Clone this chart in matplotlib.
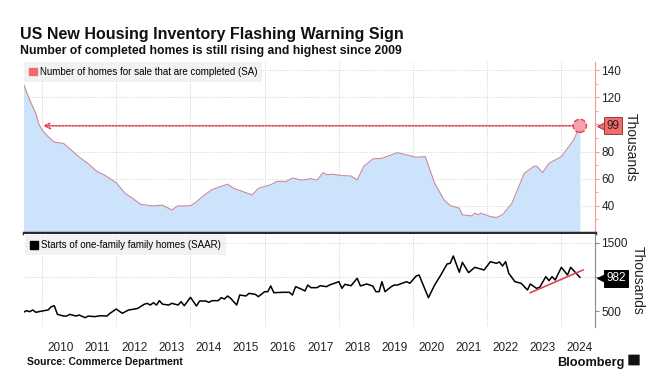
import matplotlib
matplotlib.use("Agg")
import matplotlib.pyplot as plt
import matplotlib.dates as mdates
import matplotlib.transforms as mtransforms
from matplotlib.patches import Patch, FancyBboxPatch
import pandas as pd

plt.rcParams["font.family"] = ["Liberation Sans", "DejaVu Sans"]

# completed new homes for sale, thousands (SA)
completed_dates = ["2009-07", "2009-09", "2009-11", "2009-12", "2010-01", "2010-03", "2010-05",
                   "2010-08", "2010-10", "2011-01", "2011-04", "2011-07", "2011-09", "2012-01",
                   "2012-04", "2012-06", "2012-09", "2013-01", "2013-04", "2013-07", "2013-09",
                   "2014-01", "2014-03", "2014-05", "2014-08", "2015-01", "2015-03", "2015-06",
                   "2015-09", "2015-11", "2016-03", "2016-05", "2016-08", "2016-10", "2017-01",
                   "2017-04", "2017-06", "2017-08", "2017-09", "2017-11", "2018-02", "2018-05",
                   "2018-07", "2018-09", "2018-12", "2019-03", "2019-06", "2019-08", "2019-11",
                   "2020-02", "2020-05", "2020-08", "2020-11", "2021-01", "2021-04", "2021-05",
                   "2021-08", "2021-09", "2021-10", "2021-11", "2022-02", "2022-04", "2022-06",
                   "2022-09", "2022-11", "2023-01", "2023-04", "2023-05", "2023-07", "2023-09",
                   "2023-11", "2024-01", "2024-03", "2024-05", "2024-07"]
completed = [130, 118, 108, 100, 96, 91, 87,
             86, 82, 76, 71, 65, 63, 57,
             49, 46, 41, 40, 40.5, 37, 40,
             40, 43, 47, 52, 56, 53, 50.5,
             48, 53, 55.5, 58, 58, 60.5, 59,
             60, 59, 64.5, 63, 63.3, 62.3, 62,
             59, 69, 74.6, 75, 77.5, 79.2, 77.5,
             75.8, 76.3, 56.7, 44.4, 40.2, 38.3, 33.4,
             32.6, 34.6, 33.4, 34.6, 32.1, 31.4, 33.4,
             42, 53, 64, 68.9, 69.4, 64.5, 71.4,
             73.8, 76.3, 82.4, 88.5, 99]

# one-family housing starts, thousands (SAAR)
starts_dates = ["2009-07", "2009-08", "2009-09", "2009-10", "2009-11", "2010-01", "2010-03",
                "2010-04", "2010-05", "2010-06", "2010-08", "2010-09", "2010-10", "2010-12",
                "2011-01", "2011-03", "2011-04", "2011-06", "2011-08", "2011-10", "2011-11",
                "2012-01", "2012-03", "2012-05", "2012-07", "2012-08", "2012-10", "2012-11",
                "2012-12", "2013-01", "2013-02", "2013-03", "2013-04", "2013-06", "2013-07",
                "2013-09", "2013-10", "2013-11", "2014-01", "2014-03", "2014-04", "2014-06",
                "2014-07", "2014-08", "2014-10", "2014-11", "2014-12", "2015-01", "2015-02",
                "2015-04", "2015-05", "2015-07", "2015-08", "2015-10", "2015-11", "2016-01",
                "2016-02", "2016-03", "2016-04", "2016-07", "2016-09", "2016-10", "2016-11",
                "2017-01", "2017-02", "2017-03", "2017-04", "2017-06", "2017-07", "2017-09",
                "2017-10", "2018-01", "2018-02", "2018-03", "2018-05", "2018-07", "2018-08",
                "2018-10", "2018-12", "2019-01", "2019-02", "2019-03", "2019-04", "2019-06",
                "2019-07", "2019-08", "2019-10", "2019-11", "2019-12", "2020-02", "2020-03",
                "2020-06", "2020-08", "2020-10", "2020-12", "2021-01", "2021-02", "2021-04",
                "2021-05", "2021-07", "2021-09", "2021-12", "2022-02", "2022-04", "2022-05",
                "2022-06", "2022-07", "2022-08", "2022-10", "2022-12", "2023-02", "2023-03",
                "2023-05", "2023-06", "2023-08", "2023-09", "2023-10", "2023-11", "2024-01",
                "2024-03", "2024-04", "2024-06", "2024-07"]
starts = [481, 505, 490, 515, 481, 500, 515,
          563, 578, 451, 426, 426, 451, 426,
          441, 402, 426, 417, 431, 426, 466,
          529, 466, 515, 529, 539, 598, 613,
          588, 622, 588, 652, 600, 588, 613,
          588, 637, 578, 701, 574, 647, 647,
          627, 652, 652, 696, 676, 721, 686,
          588, 735, 721, 760, 745, 711, 784,
          784, 868, 769, 775, 775, 735, 858,
          819, 794, 882, 843, 843, 872, 858,
          882, 931, 833, 892, 872, 981, 868,
          897, 868, 784, 784, 931, 784, 858,
          882, 882, 916, 931, 907, 1015, 1029,
          696, 882, 1029, 1191, 1201, 1309, 1070,
          1216, 1064, 1142, 1103, 1225, 1201, 1221,
          1162, 1225, 1054, 931, 907, 809, 897,
          833, 848, 1005, 946, 1005, 956, 1142,
          1029, 1142, 1044, 995]

trend_dates = ["2023-03", "2024-08"]
trend_vals = [769, 1103]

completed_last = 99
starts_last = 982
years = list(range(2010, 2025))

c_dates = pd.to_datetime(completed_dates)
s_dates = pd.to_datetime(starts_dates)
t_dates = pd.to_datetime(trend_dates)

W, H = 661, 383
fig = plt.figure(figsize=(W / 100, H / 100), dpi=100)
fig.patch.set_facecolor("white")

ax1 = fig.add_axes([24 / W, 1 - 233 / H, 571 / W, 171 / H])
ax2 = fig.add_axes([24 / W, 1 - 327 / H, 571 / W, 93 / H], sharex=ax1)

xmin = pd.Timestamp("2009-07-07")
xmax = pd.Timestamp("2024-11-27")
grid_years = [pd.Timestamp(f"{y}-01-01") for y in range(2010, 2025, 2)]

for ax in (ax1, ax2):
    ax.set_facecolor("white")
    for s in ["left", "top", "bottom"]:
        ax.spines[s].set_visible(False)
    ax.yaxis.tick_right()
    ax.yaxis.set_label_position("right")
    for g in grid_years:
        ax.axvline(g, color="#cfcfcf", lw=0.7, ls=(0, (1, 1.5)), zorder=0)
    ax.set_xlim(xmin, xmax)


def value_tag(ax, y, label, fc, ec, tc):
    # flag on the right axis pointing at the last value
    tr = mtransforms.blended_transform_factory(ax.transAxes, ax.transData)
    ax.plot([1.012], [y], marker="<", ms=6.5, color=fc, mec=ec, mew=0.7, transform=tr,
            clip_on=False, zorder=5)
    ax.text(1.02, y, label, transform=tr, fontsize=8.5, va="center", ha="left", color=tc,
            bbox=dict(boxstyle="square,pad=0.2", fc=fc, ec=ec, lw=0.7), zorder=6)


# --- top panel
ax1.fill_between(c_dates, completed, 0, color="#cce3fb", lw=0, zorder=1)
ax1.plot(c_dates, completed, color="#c98a9e", lw=0.8, zorder=2)
ax1.set_ylim(20, 146)
ax1.set_yticks([40, 60, 80, 100, 120, 140])
ax1.set_yticklabels(["40", "60", "80", "", "120", "140"])
ax1.set_yticks(range(30, 146, 20), minor=True)
for v in [40, 60, 80, 120, 140]:
    ax1.axhline(v, color="#d5d5d5", lw=0.7, ls=(0, (1, 1.5)), zorder=0)
ax1.spines["right"].set_color("#f29a9a")
ax1.tick_params(axis="y", which="major", length=3, color="#f29a9a", labelsize=8.5,
                labelcolor="#222222", pad=1.5)
ax1.tick_params(axis="y", which="minor", length=2, color="#f29a9a")
ax1.tick_params(axis="x", length=0, labelbottom=False)

# dotted arrow back to 2009 level
ax1.annotate("", xy=(pd.Timestamp("2010-01-10"), completed_last),
             xytext=(pd.Timestamp("2024-05-01"), completed_last),
             arrowprops=dict(arrowstyle="->", color="#e8404f", lw=1.2, ls=(0, (1, 1)),
                             shrinkA=0, shrinkB=0), zorder=3)
ax1.scatter([c_dates[-1]], [completed_last], s=90, facecolor="#f7a1ae", edgecolor="#e8404f",
            linewidths=1.0, linestyle="--", zorder=4)
value_tag(ax1, completed_last, f"{completed_last}", "#f26b6b", "#9a3a3a", "#222222")
ax1.set_ylabel("Thousands", rotation=270, fontsize=10, labelpad=12, color="#222222")

leg1 = ax1.legend(handles=[Patch(color="#f26b6b", label="Number of homes for sale that are completed (SA)")],
                  loc="upper left", bbox_to_anchor=(0, 1), borderaxespad=0, frameon=True,
                  fancybox=False, fontsize=7, handlelength=0.8, handleheight=0.8,
                  handletextpad=0.3, borderpad=0.5)
leg1.get_frame().set_facecolor("#efefef")
leg1.get_frame().set_edgecolor("none")

# dark separator
ax1.axhline(20, color="#2b2b2b", lw=2.5, zorder=5, clip_on=False)

# --- bottom panel
ax2.plot(s_dates, starts, color="black", lw=1.1, zorder=2)
ax2.plot(t_dates, trend_vals, color="#e0405a", lw=1.2, zorder=3)
ax2.set_ylim(265, 1632)
ax2.set_yticks([500, 1000, 1500])
ax2.set_yticklabels(["500", "", "1500"])
for v in [1000, 1500]:
    ax2.axhline(v, color="#d5d5d5", lw=0.7, ls=(0, (1, 1.5)), zorder=0)
ax2.spines["right"].set_color("#8a8a8a")
ax2.tick_params(axis="y", length=3, color="#8a8a8a", labelsize=8.5, labelcolor="#222222", pad=1.5)
value_tag(ax2, starts_last, f"{starts_last}", "black", "black", "white")
ax2.set_ylabel("Thousands", rotation=270, fontsize=10, labelpad=12, color="#222222")

leg2 = ax2.legend(handles=[Patch(color="black", label="Starts of one-family family homes (SAAR)")],
                  loc="upper left", bbox_to_anchor=(0, 1), borderaxespad=0.15, frameon=True,
                  fancybox=False, fontsize=7, handlelength=0.8, handleheight=0.8,
                  handletextpad=0.3, borderpad=0.5)
leg2.get_frame().set_facecolor("#efefef")
leg2.get_frame().set_edgecolor("none")

ax2.set_xticks([pd.Timestamp(f"{y}-07-01") for y in years])
ax2.xaxis.set_major_formatter(mdates.DateFormatter("%Y"))
ax2.tick_params(axis="x", length=0, labelsize=8.5, labelcolor="#222222", pad=11)

# --- texts
fig.text(20 / W, 1 - 39 / H, "US New Housing Inventory Flashing Warning Sign",
         fontsize=11.5, fontweight="bold", color="#111111")
fig.text(20 / W, 1 - 54 / H, "Number of completed homes is still rising and highest since 2009",
         fontsize=8.8, fontweight="bold", color="#111111")
fig.text(27 / W, 1 - 365 / H, "Source: Commerce Department", fontsize=7.5,
         fontweight="bold", color="#111111")
fig.text(625 / W, 1 - 366 / H, "Bloomberg", fontsize=9.2, fontweight="bold",
         color="#111111", ha="right")
logo = FancyBboxPatch((629 / W, 1 - 365 / H), 10 / W, 10 / H, boxstyle="round,pad=0.001",
                      transform=fig.transFigure, fc="#111111", ec="none")
fig.patches.append(logo)

fig.savefig("out.png", dpi=100, facecolor="white")
